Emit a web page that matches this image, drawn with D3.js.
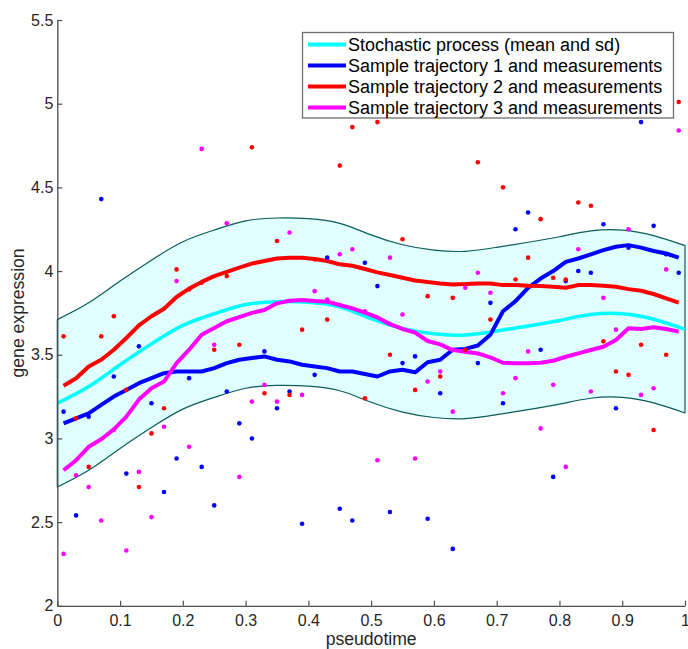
<!DOCTYPE html>
<html>
<head>
<meta charset="utf-8">
<script src="https://cdn.jsdelivr.net/npm/d3@7"></script>
<style>
  html, body { margin: 0; padding: 0; background: #fff; }
  svg { display: block; font-family: "Liberation Sans", Arial, Helvetica, sans-serif; }
</style>
</head>
<body>
<svg id="chart" width="688" height="649"></svg>
<script>
// Stochastic process: mean and standard deviation on a regular pseudotime grid
const processTime = [0, 0.05, 0.10, 0.15, 0.20, 0.25, 0.30, 0.35, 0.40, 0.45, 0.50,
                     0.55, 0.60, 0.65, 0.70, 0.75, 0.80, 0.85, 0.90, 0.95, 1.00];
const processMean = [3.21, 3.31, 3.44, 3.565, 3.675, 3.745, 3.80, 3.817, 3.813, 3.785, 3.716,
                     3.657, 3.625, 3.618, 3.642, 3.672, 3.705, 3.740, 3.745, 3.712, 3.652];
const processSd   = [0.5, 0.5, 0.5, 0.5, 0.5, 0.5, 0.5, 0.5, 0.5, 0.5, 0.5,
                     0.5, 0.5, 0.5, 0.5, 0.5, 0.5, 0.5, 0.5, 0.5, 0.5];

// Sampling times shared by the trajectories and their measurements
const sampleTime = [0.01, 0.03, 0.05, 0.07, 0.09, 0.11, 0.13, 0.15, 0.17, 0.19,
                    0.21, 0.23, 0.25, 0.27, 0.29, 0.31, 0.33, 0.35, 0.37, 0.39,
                    0.41, 0.43, 0.45, 0.47, 0.49, 0.51, 0.53, 0.55, 0.57, 0.59,
                    0.61, 0.63, 0.65, 0.67, 0.69, 0.71, 0.73, 0.75, 0.77, 0.79,
                    0.81, 0.83, 0.85, 0.87, 0.89, 0.91, 0.93, 0.95, 0.97, 0.99];

// Sample trajectories
const trajectory1 = [3.09, 3.12, 3.15, 3.20, 3.25, 3.29, 3.33, 3.36, 3.39, 3.40,
                     3.40, 3.40, 3.42, 3.45, 3.47, 3.48, 3.49, 3.47, 3.46, 3.44,
                     3.43, 3.42, 3.40, 3.40, 3.385, 3.37, 3.40, 3.41, 3.395, 3.455,
                     3.47, 3.53, 3.535, 3.555, 3.62, 3.76, 3.82, 3.90, 3.955, 4.00,
                     4.055, 4.075, 4.10, 4.125, 4.145, 4.155, 4.14, 4.12, 4.105, 4.08];
const trajectory2 = [3.315, 3.36, 3.43, 3.47, 3.53, 3.60, 3.675, 3.73, 3.775, 3.845,
                     3.895, 3.935, 3.97, 3.995, 4.02, 4.045, 4.06, 4.075, 4.08, 4.08,
                     4.072, 4.06, 4.04, 4.032, 4.012, 3.992, 3.976, 3.96, 3.944, 3.934,
                     3.926, 3.92, 3.922, 3.926, 3.926, 3.916, 3.916, 3.912, 3.91, 3.906,
                     3.90, 3.916, 3.916, 3.912, 3.906, 3.892, 3.882, 3.863, 3.837, 3.811];
const trajectory3 = [2.81, 2.87, 2.95, 2.995, 3.054, 3.13, 3.232, 3.30, 3.34, 3.45,
                     3.53, 3.62, 3.66, 3.70, 3.725, 3.75, 3.767, 3.807, 3.823, 3.827,
                     3.821, 3.817, 3.797, 3.777, 3.751, 3.723, 3.683, 3.654, 3.632, 3.582,
                     3.562, 3.528, 3.518, 3.508, 3.484, 3.452, 3.449, 3.449, 3.452, 3.464,
                     3.488, 3.508, 3.528, 3.548, 3.588, 3.658, 3.654, 3.664, 3.654, 3.638];

// Noisy measurements of each trajectory
const measured1 = [3.16, 2.54, 3.13, 4.43, 3.37, 2.79, 3.55, 3.21, 2.68, 2.88,
                   3.36, 2.83, 2.60, 3.28, 3.09, 3.00, 3.52, 3.18, 3.28, 2.49,
                   3.38, 4.08, 2.58, 2.51, 4.05, 3.91, 2.56, 3.45, 3.49, 2.52,
                   3.27, 2.34, 3.53, 3.45, 3.81, 3.21, 4.25, 4.35, 3.53, 2.77,
                   3.94, 4.00, 3.99, 4.28, 3.18, 4.14, 4.89, 4.27, 4.10, 3.99];
const measured2 = [3.61, 3.12, 2.83, 3.61, 3.73, 3.29, 2.71, 3.03, 3.18, 4.01,
                   3.89, 3.93, 3.53, 3.97, 3.56, 4.74, 3.27, 4.18, 3.26, 3.65,
                   4.07, 3.71, 4.63, 4.86, 3.24, 4.89, 3.50, 4.19, 3.29, 3.85,
                   3.37, 3.84, 3.53, 4.65, 3.71, 4.50, 3.95, 4.08, 4.31, 3.96,
                   3.95, 4.41, 4.39, 3.58, 3.40, 3.38, 3.56, 3.05, 3.50, 5.01];
const measured3 = [2.31, 2.78, 2.71, 2.51, 3.05, 2.33, 2.80, 2.53, 3.07, 3.94,
                   2.95, 4.73, 3.56, 4.285, 2.77, 3.22, 3.32, 3.22, 4.23, 3.26,
                   3.88, 3.83, 4.10, 4.13, 3.76, 2.87, 4.08, 3.74, 2.88, 3.34,
                   3.40, 3.16, 3.90, 3.99, 3.87, 3.27, 3.36, 3.52, 3.06, 3.32,
                   2.83, 4.13, 3.28, 3.84, 3.65, 4.25, 3.26, 3.30, 4.01, 4.84];

// Axis ticks
const xTicks = [0, 0.1, 0.2, 0.3, 0.4, 0.5, 0.6, 0.7, 0.8, 0.9, 1];
const yTicks = [2, 2.5, 3, 3.5, 4, 4.5, 5, 5.5];

const legendLabels = [
  "Stochastic process (mean and sd)",
  "Sample trajectory 1 and measurements",
  "Sample trajectory 2 and measurements",
  "Sample trajectory 3 and measurements"
];
const seriesColors = ["#00ffff", "#0000ff", "#ff0000", "#ff00ff"];

const svg = d3.select("#chart");
const plot = { left: 57.3, right: 685, top: 20, bottom: 605.8 };

const x = d3.scaleLinear().domain([0, 1]).range([plot.left, plot.right]);
const y = d3.scaleLinear().domain([2, 5.5]).range([plot.bottom, plot.top]);

// Band of mean ± sd
const band = processTime.map((t, i) => ({ t, m: processMean[i], s: processSd[i] }));
const area = d3.area()
  .x(d => x(d.t))
  .y0(d => y(d.m - d.s))
  .y1(d => y(d.m + d.s))
  .curve(d3.curveNatural);

svg.append("path")
  .datum(band)
  .attr("d", area)
  .attr("fill", "#e0ffff")
  .attr("stroke", "#0b5c5c")
  .attr("stroke-width", 1.2)
  .attr("stroke-linejoin", "round");

// Mean curve
svg.append("path")
  .datum(band)
  .attr("d", d3.line().x(d => x(d.t)).y(d => y(d.m)).curve(d3.curveNatural))
  .attr("fill", "none")
  .attr("stroke", seriesColors[0])
  .attr("stroke-width", 3.5);

// Trajectories
const lineGen = d3.line().x(d => x(d[0])).y(d => y(d[1]));
[trajectory1, trajectory2, trajectory3].forEach((traj, k) => {
  svg.append("path")
    .datum(sampleTime.map((t, i) => [t, traj[i]]))
    .attr("d", lineGen)
    .attr("fill", "none")
    .attr("stroke", seriesColors[k + 1])
    .attr("stroke-width", 4)
    .attr("stroke-linejoin", "round");
});

// Measurements
[measured1, measured2, measured3].forEach((vals, k) => {
  svg.append("g")
    .selectAll("circle")
    .data(sampleTime.map((t, i) => [t, vals[i]]))
    .join("circle")
    .attr("cx", d => x(d[0]))
    .attr("cy", d => y(d[1]))
    .attr("r", 2.3)
    .attr("fill", seriesColors[k + 1]);
});

// Axes (ticks pointing inward)
const axisColor = "#4d4d4d";
const gx = svg.append("g")
  .attr("transform", `translate(0,${plot.bottom})`)
  .call(d3.axisBottom(x).tickValues(xTicks).tickFormat(d3.format("~g"))
        .tickSizeInner(-5).tickSizeOuter(0).tickPadding(9));
const gy = svg.append("g")
  .attr("transform", `translate(${plot.left},0)`)
  .call(d3.axisLeft(y).tickValues(yTicks).tickFormat(d3.format("~g"))
        .tickSizeInner(-5).tickSizeOuter(0).tickPadding(4));
[gx, gy].forEach(g => {
  g.select(".domain").attr("stroke", axisColor).attr("stroke-width", 1.3);
  g.selectAll(".tick line").attr("stroke", axisColor).attr("stroke-width", 1.2);
  g.selectAll(".tick text").attr("fill", "#262626")
    .style("font-size", "16px").style("font-family", "'Liberation Sans', Arial, sans-serif");
});

// Axis titles
svg.append("text")
  .attr("x", (plot.left + plot.right) / 2)
  .attr("y", 645)
  .attr("text-anchor", "middle")
  .attr("fill", "#262626")
  .style("font-size", "17.6px")
  .text("pseudotime");
svg.append("text")
  .attr("transform", `translate(24,${(plot.top + plot.bottom) / 2}) rotate(-90)`)
  .attr("text-anchor", "middle")
  .attr("fill", "#262626")
  .style("font-size", "17.6px")
  .text("gene expression");

// Legend
const legend = svg.append("g");
legend.append("rect")
  .attr("x", 302.5).attr("y", 32.5)
  .attr("width", 371).attr("height", 85.5)
  .attr("fill", "#ffffff")
  .attr("stroke", "#6e6e6e")
  .attr("stroke-width", 1.3);
legendLabels.forEach((label, i) => {
  const cy = 44.5 + i * 21;
  legend.append("line")
    .attr("x1", 308).attr("x2", 346)
    .attr("y1", cy).attr("y2", cy)
    .attr("stroke", seriesColors[i])
    .attr("stroke-width", 4);
  legend.append("text")
    .attr("x", 348).attr("y", cy + 6.5)
    .attr("fill", "#000")
    .style("font-size", "18px")
    .text(label);
});
</script>
</body>
</html>
